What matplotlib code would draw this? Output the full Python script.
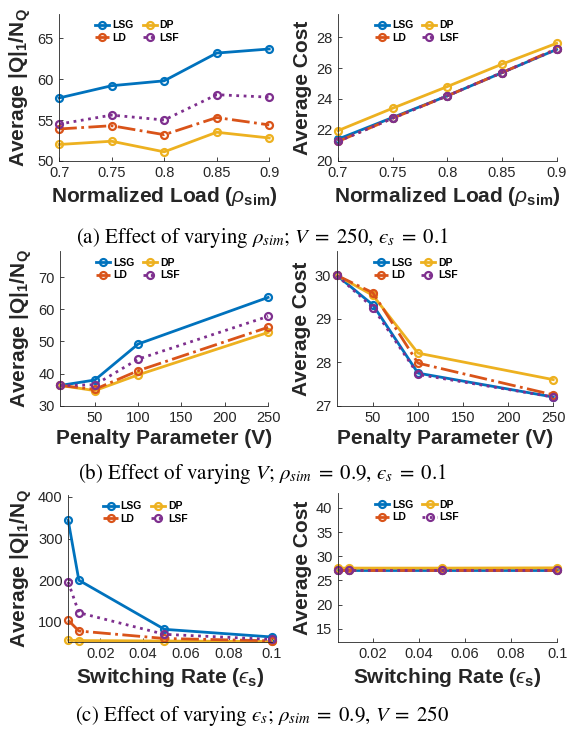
import numpy as np
import matplotlib
matplotlib.use("Agg")
import matplotlib.pyplot as plt
from matplotlib.legend_handler import HandlerLine2D

plt.rcParams['font.family'] = ['Liberation Sans', 'DejaVu Sans']
plt.rcParams['mathtext.fontset'] = 'custom'
plt.rcParams['mathtext.rm'] = 'Liberation Sans'
plt.rcParams['mathtext.it'] = 'Liberation Sans:italic'
plt.rcParams['mathtext.bf'] = 'Liberation Sans:bold'
plt.rcParams['mathtext.fallback'] = 'stix'

# ---------------- data ----------------
names = ['LSG', 'DP', 'LD', 'LSF']

rho = [0.7, 0.75, 0.8, 0.85, 0.9]
q_rho = {
    'LSG': [57.7, 59.2, 59.8, 63.2, 63.7],
    'DP':  [52.0, 52.4, 51.1, 53.5, 52.8],
    'LD':  [53.9, 54.3, 53.2, 55.3, 54.4],
    'LSF': [54.5, 55.6, 55.0, 58.1, 57.8],
}
c_rho = {
    'LSG': [21.4, 22.8, 24.2, 25.7, 27.2],
    'DP':  [21.95, 23.4, 24.8, 26.25, 27.6],
    'LD':  [21.25, 22.75, 24.2, 25.7, 27.25],
    'LSF': [21.25, 22.75, 24.2, 25.7, 27.2],
}

V = [10, 50, 100, 250]
q_V = {
    'LSG': [36.3, 38.0, 49.2, 63.7],
    'DP':  [36.3, 34.7, 39.6, 52.8],
    'LD':  [36.3, 35.1, 40.9, 54.4],
    'LSF': [36.3, 36.5, 44.5, 57.8],
}
c_V = {
    'LSG': [30.0, 29.32, 27.75, 27.2],
    'DP':  [30.0, 29.54, 28.21, 27.6],
    'LD':  [30.0, 29.6, 27.98, 27.25],
    'LSF': [30.0, 29.26, 27.72, 27.2],
}

eps = [0.005, 0.01, 0.05, 0.1]
q_eps = {
    'LSG': [344, 200, 82, 63.7],
    'DP':  [56, 55, 54, 52.8],
    'LD':  [104, 78, 60, 54.4],
    'LSF': [196, 122, 70, 57.8],
}
c_eps = {
    'LSG': [27.2, 27.2, 27.2, 27.2],
    'DP':  [27.55, 27.55, 27.55, 27.6],
    'LD':  [27.25, 27.25, 27.25, 27.25],
    'LSF': [27.2, 27.2, 27.2, 27.2],
}

colors = {'LSG': '#0072BD', 'DP': '#EDB120', 'LD': '#D95319', 'LSF': '#7E2F8E'}
styles = {'LSG': '-', 'DP': '-', 'LD': '-.', 'LSF': ':'}

ylab_q = r'Average |Q|$_\mathbf{1}$/N$_\mathbf{Q}$'
ylab_c = 'Average Cost'
xlab_rho = r'Normalized Load ($\rho_{\mathbf{sim}}$)'
xlab_V = 'Penalty Parameter (V)'
xlab_eps = 'Switching Rate ($\u03f5_{\\mathbf{s}}$)'

grey = '#262626'


class LeftMarker(HandlerLine2D):
    def get_xdata(self, legend, xdescent, ydescent, width, height, fontsize):
        xd = np.array([-xdescent + 0.1 * width, -xdescent + width])
        xm = np.array([-xdescent + 0.15 * width])
        return xd, xm


fig = plt.figure(figsize=(5.68, 7.31), dpi=100)


def panel(rect, x, data, xlim, ylim, xt, xtl, yt, xlab, ylab):
    ax = fig.add_axes(rect)
    for n in names:
        ax.plot(x, data[n], styles[n], color=colors[n], lw=2, marker='o',
                ms=5, mfc='none', mew=1.6, label=n, clip_on=False)
    ax.set_xlim(xlim)
    ax.set_ylim(ylim)
    ax.set_xticks(xt)
    ax.set_xticklabels(xtl)
    ax.set_yticks(yt)
    for s in ['top', 'right']:
        ax.spines[s].set_visible(False)
    for s in ['left', 'bottom']:
        ax.spines[s].set_color(grey)
        ax.spines[s].set_linewidth(0.6)
    ax.tick_params(direction='in', length=3, width=0.6, colors=grey,
                   labelsize=10.5, pad=4)
    ax.set_xlabel(xlab, fontsize=15, fontweight='bold', color=grey, labelpad=3)
    ax.set_ylabel(ylab, fontsize=15, fontweight='bold', color=grey, labelpad=3)
    h, l = ax.get_legend_handles_labels()
    order = [0, 2, 1, 3]
    ax.legend([h[i] for i in order], [l[i] for i in order], ncol=2,
              loc='upper left', bbox_to_anchor=(0.12, 1.02), frameon=False,
              prop={'size': 7.5, 'weight': 'bold'}, handlelength=1.5,
              handletextpad=0.3, columnspacing=0.7, labelspacing=0.25,
              handler_map={matplotlib.lines.Line2D: LeftMarker()})
    return ax


# row (a)
panel([0.104, 0.780, 0.370, 0.201], rho, q_rho, (0.7, 0.9), (50, 68),
      rho, ['0.7', '0.75', '0.8', '0.85', '0.9'], [50, 55, 60, 65], xlab_rho, ylab_q)
panel([0.595, 0.780, 0.385, 0.201], rho, c_rho, (0.7, 0.9), (20, 29.5),
      rho, ['0.7', '0.75', '0.8', '0.85', '0.9'], [20, 22, 24, 26, 28], xlab_rho, ylab_c)

# row (b)
panel([0.106, 0.445, 0.366, 0.211], V, q_V, (10, 250), (30, 78),
      [50, 100, 150, 200, 250], ['50', '100', '150', '200', '250'],
      [30, 40, 50, 60, 70], xlab_V, ylab_q)
panel([0.593, 0.445, 0.381, 0.211], V, c_V, (10, 250), (27, 30.55),
      [50, 100, 150, 200, 250], ['50', '100', '150', '200', '250'],
      [27, 28, 29, 30], xlab_V, ylab_c)

# row (c)
panel([0.120, 0.122, 0.358, 0.201], eps, q_eps, (0.005, 0.1), (52, 405),
      [0.02, 0.04, 0.06, 0.08, 0.1], ['0.02', '0.04', '0.06', '0.08', '0.1'],
      [100, 200, 300, 400], xlab_eps, ylab_q)
panel([0.595, 0.122, 0.386, 0.203], eps, c_eps, (0.005, 0.1), (12.3, 43),
      [0.02, 0.04, 0.06, 0.08, 0.1], ['0.02', '0.04', '0.06', '0.08', '0.1'],
      [15, 20, 25, 30, 35, 40], xlab_eps, ylab_c)

cap = dict(ha='center', va='center', fontsize=15, family='STIXGeneral',
           math_fontfamily='stix', color='black')
fig.text(0.462, 0.674, '(a) Effect of varying $\\rho_{sim}$; $V\\;=\\;250$, $\u03f5_s\\;=\\;0.1$', **cap)
fig.text(0.462, 0.352, '(b) Effect of varying $V$; $\\rho_{sim}\\;=\\;0.9$, $\u03f5_s\\;=\\;0.1$', **cap)
fig.text(0.462, 0.021, '(c) Effect of varying $\u03f5_s$; $\\rho_{sim}\\;=\\;0.9$, $V\\;=\\;250$', **cap)

fig.savefig('out.png', dpi=100)
